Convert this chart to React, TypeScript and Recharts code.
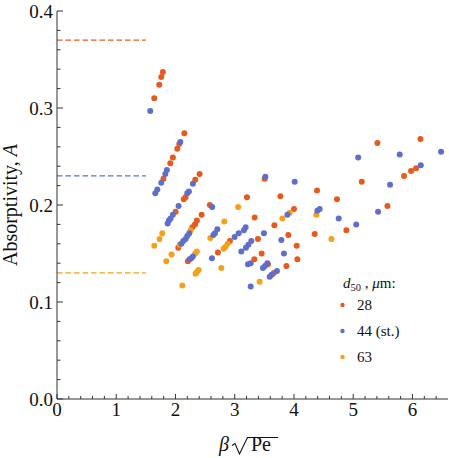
import { ScatterChart, Scatter, XAxis, YAxis, ReferenceLine, Customized } from 'recharts'

document.body.style.margin = '0'

// d50 = 28 µm
const d28: [number, number][] = [
  [1.787, 0.337], [1.760, 0.332], [1.726, 0.324], [1.642, 0.310],
  [2.149, 0.274], [2.064, 0.263], [2.030, 0.258], [1.956, 0.249], [1.912, 0.243], [1.797, 0.227],
  [2.407, 0.232], [2.334, 0.226], [2.169, 0.208], [2.140, 0.206],
  [3.206, 0.208], [2.002, 0.193], [2.580, 0.200], [2.441, 0.190], [2.361, 0.184], [2.328, 0.180], [2.284, 0.177],
  [2.047, 0.156], [2.919, 0.163], [2.716, 0.151], [3.336, 0.187], [3.392, 0.165],
  [2.209, 0.142], [3.331, 0.144], [3.454, 0.150], [3.561, 0.139], [3.872, 0.137], [4.057, 0.144], [3.660, 0.130],
  [3.505, 0.227], [3.770, 0.209], [4.389, 0.215], [4.726, 0.206], [4.000, 0.196], [3.669, 0.179],
  [4.885, 0.174], [4.350, 0.170], [3.905, 0.169], [4.046, 0.158],
  [5.409, 0.264], [6.135, 0.268], [5.144, 0.224], [6.061, 0.238], [5.976, 0.235], [5.858, 0.230], [5.578, 0.199],
]

// d50 = 44 µm (standard)
const d44: [number, number][] = [
  [1.574, 0.297], [2.081, 0.265], [1.855, 0.236], [1.828, 0.232], [1.760, 0.223], [1.693, 0.216], [1.659, 0.212],
  [2.294, 0.222], [2.226, 0.214], [2.199, 0.212], [2.052, 0.199],
  [1.956, 0.190], [1.917, 0.186], [1.889, 0.184], [1.867, 0.181],
  [2.620, 0.198], [3.184, 0.177], [3.155, 0.174],
  [2.233, 0.171], [2.199, 0.168], [2.171, 0.165], [2.132, 0.163], [2.098, 0.160],
  [2.706, 0.175], [2.666, 0.171], [2.639, 0.169], [3.066, 0.171], [2.998, 0.167],
  [3.280, 0.163], [3.230, 0.159], [3.189, 0.156], [3.111, 0.152],
  [2.294, 0.147], [2.267, 0.145], [2.238, 0.144], [2.615, 0.145],
  [3.269, 0.140], [3.223, 0.139], [3.269, 0.116],
  [3.517, 0.229], [4.012, 0.224], [5.084, 0.249], [4.395, 0.194], [4.434, 0.196], [3.889, 0.190], [4.755, 0.186],
  [3.493, 0.171], [3.787, 0.164], [3.831, 0.150],
  [3.551, 0.140], [3.510, 0.137], [3.476, 0.135], [3.713, 0.132], [3.623, 0.128], [3.590, 0.126],
  [5.785, 0.252], [6.483, 0.255], [6.140, 0.241], [5.622, 0.221], [5.419, 0.193], [5.051, 0.180],
]

// d50 = 63 µm
const d63: [number, number][] = [
  [3.057, 0.198], [2.824, 0.183], [1.777, 0.171], [2.255, 0.174], [2.069, 0.159], [1.731, 0.165], [1.642, 0.158],
  [2.588, 0.166], [2.880, 0.160], [2.846, 0.157], [2.812, 0.155], [2.361, 0.152], [2.334, 0.150],
  [1.934, 0.149], [1.845, 0.142], [2.774, 0.135], [2.390, 0.133], [2.361, 0.131], [2.340, 0.129],
  [2.115, 0.117], [3.420, 0.121], [3.927, 0.192], [3.804, 0.186], [4.378, 0.190], [4.632, 0.165],
]

const sizeLabels = ['28', '44 (st.)', '63']
const bulkLevels = [0.37, 0.23, 0.13] // dashed levels, same order as sizes
const bulkEnd = 1.5
const xMajor = [0, 1, 2, 3, 4, 5, 6]
const yMajor = [0, 0.1, 0.2, 0.3, 0.4]

const xTicks = Array.from({ length: 33 }, (_, i) => i / 5)
const yTicks = Array.from({ length: 21 }, (_, i) => i / 50)

const COLORS = ['#E65A1E', '#5F6EC8', '#F5A019']
const AXIS = '#333'
const FONT = '"Liberation Serif", "DejaVu Serif", serif'

const series = [d28, d44, d63].map(s => s.map(([x, y]) => ({ x, y })))
const drawOrder = [0, 2, 1]

const isMajor = (list: number[], v: number) => list.some(m => Math.abs(m - v) < 1e-6)

const XTick = ({ x, y, payload }: any) => {
  const major = isMajor(xMajor, payload.value)
  const ay = y - 8
  return (
    <g>
      <line x1={x} x2={x} y1={ay} y2={ay - (major ? 5 : 3)} stroke={AXIS} />
      {major && (
        <text x={x} y={ay + 17} textAnchor="middle" fill="#111" style={{ fontFamily: FONT, fontSize: 19 }}>
          {Math.round(payload.value)}
        </text>
      )}
    </g>
  )
}

const YTick = ({ x, y, payload }: any) => {
  const major = isMajor(yMajor, payload.value)
  const ax = x + 8
  return (
    <g>
      <line x1={ax} x2={ax + (major ? 6 : 3.5)} y1={y} y2={y} stroke={AXIS} />
      {major && (
        <text x={ax - 4} y={y + 6.5} textAnchor="end" fill="#111" style={{ fontFamily: FONT, fontSize: 19 }}>
          {payload.value.toFixed(1)}
        </text>
      )}
    </g>
  )
}

// β √Pe, radical sign drawn as a stroke so its bar can run over "Pe"
const XLabel = () => (
  <g style={{ fontFamily: FONT, fontSize: 20 }} fill="#111">
    <text x={219} y={451} fontStyle="italic">β</text>
    <path d="M232 445.5 L235 443.5 L239.5 454 L247.5 437.5 L278 437.5" fill="none" stroke="#111" strokeWidth={1.1} />
    <text x={251} y={451}>Pe</text>
  </g>
)

const YLabel = () => (
  <text x={16.5} y={205} transform="rotate(-90 16.5 205)" textAnchor="middle"
    fill="#111" style={{ fontFamily: FONT, fontSize: 20 }}>
    Absorptivity, <tspan fontStyle="italic">A</tspan>
  </text>
)

const SizeLegend = () => (
  <g style={{ fontFamily: FONT, fontSize: 15 }} fill="#111">
    <text x={343} y={288}>
      <tspan fontStyle="italic">d</tspan>
      <tspan fontSize={10.5} dy={3}>50</tspan>
      <tspan dy={-3}> , </tspan>
      <tspan fontStyle="italic">μ</tspan>
      <tspan>m:</tspan>
    </text>
    {sizeLabels.map((label, i) => (
      <g key={label}>
        <circle cx={342.5} cy={305 + i * 26} r={2.2} fill={COLORS[i]} />
        <text x={357} y={310 + i * 26}>{label}</text>
      </g>
    ))}
  </g>
)

const dot = (color: string) => (props: any) => (
  <circle cx={props.cx} cy={props.cy} r={3} fill={color} />
)

export default function App() {
  return (
    <div style={{ background: '#fff', width: 449, height: 458 }}>
      <ScatterChart width={449} height={458} margin={{ top: 11, right: 1, bottom: 0, left: 0 }}>
        <XAxis
          type="number"
          dataKey="x"
          domain={[0, 6.6]}
          ticks={xTicks}
          interval={0}
          height={59}
          tickSize={6}
          tickMargin={2}
          tickLine={false}
          axisLine={{ stroke: AXIS }}
          tick={<XTick />}
          label={<XLabel />}
          allowDataOverflow
        />
        <YAxis
          type="number"
          dataKey="y"
          domain={[0, 0.4]}
          ticks={yTicks}
          interval={0}
          width={57}
          tickSize={6}
          tickMargin={2}
          tickLine={false}
          axisLine={{ stroke: AXIS }}
          tick={<YTick />}
          label={<YLabel />}
          allowDataOverflow
        />
        {bulkLevels.map((level, i) => (
          <ReferenceLine
            key={level}
            segment={[{ x: 0, y: level }, { x: bulkEnd, y: level }]}
            stroke={COLORS[i]}
            strokeWidth={1.4}
            strokeDasharray="5.5 3"
          />
        ))}
        {drawOrder.map(i => (
          <Scatter
            key={i}
            data={series[i]}
            fill={COLORS[i]}
            shape={dot(COLORS[i])}
            isAnimationActive={false}
          />
        ))}
        <Customized component={SizeLegend} />
      </ScatterChart>
    </div>
  )
}
